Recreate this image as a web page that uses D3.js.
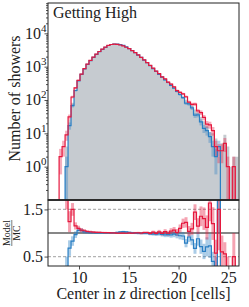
<!DOCTYPE html>
<html><head><meta charset="utf-8">
<script src="https://cdn.jsdelivr.net/npm/d3@7"></script>
<style>
html,body{margin:0;padding:0;background:#fff;}
svg text{font-family:"Liberation Serif","DejaVu Serif",serif;fill:#222;}
</style></head>
<body><svg id="c" width="249" height="307"></svg>
<script>
// ---- data ----
const binEdges = [8.0,8.3,8.6,8.9,9.2,9.5,9.8,10.1,10.4,10.7,11.0,11.3,11.6,11.9,12.2,12.5,12.8,13.1,13.4,13.7,
  14.0,14.3,14.6,14.9,15.2,15.5,15.8,16.1,16.4,16.7,17.0,17.3,17.6,17.9,18.2,18.5,18.8,19.1,19.4,19.7,
  20.0,20.3,20.6,20.9,21.2,21.5,21.8,22.1,22.4,22.7,23.0,23.3,23.6,23.9,24.2,24.5,24.8,25.1,25.4,25.7,26.0];
const mcCounts = [0,0,4,25,82,200,355,560,830,1150, 1510,1900,2340,2820,3310,3800,4300,4600,4750,4700,
  4480,4200,3850,3450,3020,2630,2240,1910,1585,1320, 1100,890,740,600,500,417,347,288,234,190,
  155,126,102,83,68,52,41,31,23,17, 11,10,7,2,5,9,4,1,2,2];
const redCounts = [2,4,9,31,123,230,390,595,870,1185, 1545,1935,2375,2855,3345,3835,4330,4620,4770,4690,
  4470,4180,3830,3460,3010,2640,2250,1900,1600,1330, 1090,905,735,615,495,430,345,300,248,192,
  170,152,125,86,74,75,47,42,30,19, 18,12,4,3,3,5,1,0,1,0];
const blueCounts = [0,0,1,17,68,193,375,590,850,1165, 1520,1910,2350,2830,3320,3810,4310,4620,4780,4760,
  4600,4330,3940,3500,3040,2620,2220,1890,1570,1310, 1080,870,720,590,485,400,335,276,228,182,
  146,118,80,76,58,35,36,22,14,12, 8,4,2,4,0,0,0,0,0,0];
const xTicks = [10,15,20,25];
const yMainTicks = [1e0,1e1,1e2,1e3,1e4];
const yMainTickExp = ["0","1","2","3","4"];
const ratioTicks = [0.5,1.5];
const ratioRefs = [0.5,1.5];
const titleText = "Getting High";

// ---- layout ----
const L=48, R=239, T=3, MB=200, RB=266;
const svg = d3.select("#c");
const x = d3.scaleLinear().domain([6.885,26.07]).range([L,R]);
const yM = d3.scaleLog().domain([0.1, Math.pow(10,4.91)]).range([MB,T]);
const yR = d3.scaleLinear().domain([0.3,1.7]).range([RB,MB]);

const RED="#e5183e", BLUE="#2a7fc4", GRAY="#c6cbd0";

const defs = svg.append("defs");
defs.append("clipPath").attr("id","cm").append("rect").attr("x",L).attr("y",T).attr("width",R-L).attr("height",MB-T);
defs.append("clipPath").attr("id","cr").append("rect").attr("x",L).attr("y",MB).attr("width",R-L).attr("height",RB-MB);

const bins = mcCounts.map((m,i)=>({x0:binEdges[i],x1:binEdges[i+1],mc:m,red:redCounts[i],blue:blueCounts[i]}));
const yv = n => n>0 ? yM(n) : MB+20;

function stepPts(key){
  const p=[[binEdges[0],0]];
  bins.forEach(b=>{p.push([b.x0,b[key]]);p.push([b.x1,b[key]]);});
  p.push([binEdges[binEdges.length-1],0]);
  return p;
}
const gMain = svg.append("g").attr("clip-path","url(#cm)");
// gray MC fill
gMain.append("path").attr("d", d3.area().x(d=>x(d[0])).y0(MB).y1(d=>d[1]>0?yM(d[1]):MB)(stepPts("mc")))
  .attr("fill",GRAY);
// stat bands
[["blue",BLUE],["red",RED]].forEach(([k,c])=>{
  gMain.append("g").selectAll("rect").data(bins.filter(b=>b[k]>0)).join("rect")
    .attr("x",b=>x(b.x0)).attr("width",b=>x(b.x1)-x(b.x0))
    .attr("y",b=>yM(b[k]+Math.sqrt(b[k])))
    .attr("height",b=>{const lo=b[k]-Math.sqrt(b[k]);return (lo>0?yM(lo):MB+20)-yM(b[k]+Math.sqrt(b[k]));})
    .attr("fill",c).attr("opacity",0.35);
});
const lineM = d3.line().x(d=>x(d[0])).y(d=>yv(d[1]));
gMain.append("path").attr("d",lineM(stepPts("blue"))).attr("fill","none").attr("stroke",BLUE).attr("stroke-width",1.2);
gMain.append("path").attr("d",lineM(stepPts("red"))).attr("fill","none").attr("stroke",RED).attr("stroke-width",1.2);

// ---- ratio panel ----
const gR = svg.append("g").attr("clip-path","url(#cr)");
ratioRefs.forEach(v=>gR.append("line").attr("x1",L).attr("x2",R).attr("y1",yR(v)).attr("y2",yR(v))
  .attr("stroke","#b3b3b3").attr("stroke-width",1.2).attr("stroke-dasharray","3,2"));
gR.append("line").attr("x1",L).attr("x2",R).attr("y1",yR(1)).attr("y2",yR(1)).attr("stroke","#111").attr("stroke-width",1.2);

const clampR = r => Math.max(0.2, Math.min(1.8, r));
[["blue",BLUE],["red",RED]].forEach(([k,c])=>{
  gR.append("g").selectAll("rect").data(bins.filter(b=>b.mc>0&&b[k]>0)).join("rect")
    .attr("x",b=>x(b.x0)).attr("width",b=>x(b.x1)-x(b.x0))
    .attr("y",b=>yR(clampR(b[k]/b.mc+Math.sqrt(b[k])/b.mc)))
    .attr("height",b=>yR(clampR(b[k]/b.mc-Math.sqrt(b[k])/b.mc))-yR(clampR(b[k]/b.mc+Math.sqrt(b[k])/b.mc)))
    .attr("fill",c).attr("opacity",0.4);
});
function ratioPts(key){
  const p=[];
  bins.forEach(b=>{
    if(b.mc>0){const r=b[key]/b.mc;p.push([b.x0,r]);p.push([b.x1,r]);}
    else p.push(null);
  });
  return p;
}
const lineR = d3.line().defined(d=>d!==null).x(d=>x(d[0])).y(d=>yR(clampR(d[1])));
gR.append("path").attr("d",lineR(ratioPts("blue"))).attr("fill","none").attr("stroke",BLUE).attr("stroke-width",1.2);
gR.append("path").attr("d",lineR(ratioPts("red"))).attr("fill","none").attr("stroke",RED).attr("stroke-width",1.2);

// ---- axes ----
const tickCol="#222";
// main y minor ticks
const minor=[];
for(let e=-1;e<=4;e++)for(let m=2;m<=9;m++){const v=m*Math.pow(10,e);if(v<Math.pow(10,4.91))minor.push(v);}
const gYm = svg.append("g").attr("transform",`translate(${L},0)`)
  .call(d3.axisLeft(yM).tickValues(minor).tickSize(2).tickFormat(""));
const gY = svg.append("g").attr("transform",`translate(${L},0)`)
  .call(d3.axisLeft(yM).tickValues(yMainTicks).tickSize(3.5).tickFormat(""));
[gYm,gY].forEach(g=>{g.select(".domain").remove();g.selectAll("line").attr("stroke",tickCol).attr("stroke-width",0.8);});
const lbl = svg.append("g").selectAll("text").data(yMainTicks).join("text")
  .attr("x",L-1.5).attr("y",d=>yM(d)+5.2).attr("text-anchor","end").attr("font-size",16);
lbl.append("tspan").text("10");
lbl.append("tspan").attr("dy",-7).attr("font-size",11).text((d,i)=>yMainTickExp[i]);

// ratio y axis
const gRy = svg.append("g").attr("transform",`translate(${L},0)`)
  .call(d3.axisLeft(yR).tickValues(ratioTicks).tickSize(3.5).tickPadding(1.5).tickFormat(d3.format(".1f")));
gRy.select(".domain").remove();
gRy.selectAll("line").attr("stroke",tickCol).attr("stroke-width",0.8);
gRy.selectAll("text").attr("font-size",16).attr("font-family","Liberation Serif, serif").attr("fill","#222");

// x axis
const gX = svg.append("g").attr("transform",`translate(0,${RB})`)
  .call(d3.axisBottom(x).tickValues(xTicks).tickSize(3.5).tickPadding(2));
gX.select(".domain").remove();
gX.selectAll("line").attr("stroke",tickCol).attr("stroke-width",0.8);
gX.selectAll("text").attr("font-size",16).attr("font-family","Liberation Serif, serif").attr("fill","#222");

// frames
svg.append("rect").attr("x",L).attr("y",T).attr("width",R-L).attr("height",MB-T).attr("fill","none").attr("stroke","#222").attr("stroke-width",1);
svg.append("rect").attr("x",L).attr("y",MB).attr("width",R-L).attr("height",RB-MB).attr("fill","none").attr("stroke","#222").attr("stroke-width",1);
svg.append("line").attr("x1",L).attr("x2",R).attr("y1",MB).attr("y2",MB).attr("stroke","#222").attr("stroke-width",1.6);

// texts
svg.append("text").attr("x",53).attr("y",18).attr("font-size",16).text(titleText);
svg.append("text").attr("transform",`translate(20,${(T+MB)/2-3}) rotate(-90)`).attr("text-anchor","middle")
  .attr("font-size",16).text("Number of showers");
const xl = svg.append("text").attr("x",143.5).attr("y",299).attr("text-anchor","middle").attr("font-size",16);
xl.append("tspan").text("Center in ");
xl.append("tspan").attr("font-style","italic").text("z");
xl.append("tspan").text(" direction [cells]");
const fr = svg.append("g").attr("transform",`translate(0,${yR(1)}) rotate(-90)`);
fr.append("text").attr("x",0).attr("y",10).attr("text-anchor","middle").attr("font-size",10).text("Model");
fr.append("line").attr("x1",-13).attr("x2",13).attr("y1",11.8).attr("y2",11.8).attr("stroke","#222").attr("stroke-width",0.6);
fr.append("text").attr("x",0).attr("y",20).attr("text-anchor","middle").attr("font-size",10).text("MC");
</script></body></html>
